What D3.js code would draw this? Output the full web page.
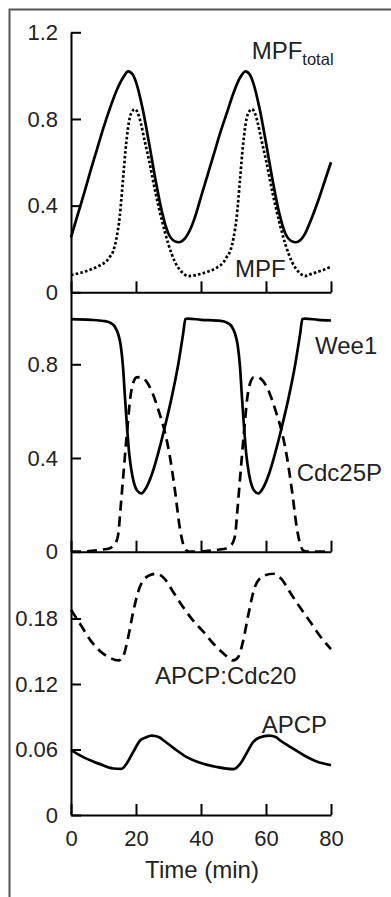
<!DOCTYPE html>
<html>
<head>
<meta charset="utf-8">
<script src="https://cdn.jsdelivr.net/npm/d3@7"></script>
<style>
  html, body { margin: 0; padding: 0; background: #fff; }
  svg { display: block; }
  text { font-family: "Liberation Sans", Arial, sans-serif; fill: #222; }
</style>
</head>
<body>
<svg id="chart" width="391" height="897"></svg>
<script>
// top panel: MPF total (solid) and active MPF (dotted)
const mpfTotalT = [0, 2, 4, 6, 8, 10, 12, 14, 16, 17.6, 19, 20, 22, 24, 26, 28, 30, 32, 33.2, 34.5, 36, 38, 40, 42, 44, 46, 48, 50, 52, 53.7, 55, 56, 58, 60, 62, 64, 66, 68, 69.2, 70.5, 72, 74, 76, 78, 80];
const mpfTotal  = [0.254, 0.355, 0.455, 0.56, 0.66, 0.76, 0.85, 0.93, 0.99, 1.02, 1.005, 0.97, 0.85, 0.69, 0.52, 0.37, 0.27, 0.235, 0.231, 0.24, 0.27, 0.34, 0.44, 0.54, 0.64, 0.74, 0.83, 0.92, 0.99, 1.02, 1.005, 0.97, 0.85, 0.69, 0.52, 0.37, 0.27, 0.235, 0.231, 0.24, 0.27, 0.34, 0.42, 0.51, 0.60];

const mpfT = [0, 3, 6, 9, 11, 12, 13, 14, 15, 16, 17, 18, 19, 19.6, 20.5, 21.5, 22.5, 24, 26, 28, 30, 32, 34, 36, 38, 40, 42, 45, 47, 48, 49, 50, 51, 52, 53, 54, 55, 55.6, 56.5, 57.5, 58.5, 60, 62, 64, 66, 68, 70, 72, 74, 76, 78, 80];
const mpf  = [0.08, 0.09, 0.105, 0.125, 0.145, 0.165, 0.19, 0.25, 0.35, 0.52, 0.69, 0.80, 0.838, 0.845, 0.83, 0.78, 0.71, 0.61, 0.46, 0.33, 0.22, 0.14, 0.095, 0.075, 0.078, 0.085, 0.095, 0.115, 0.14, 0.165, 0.19, 0.25, 0.35, 0.52, 0.69, 0.80, 0.838, 0.845, 0.83, 0.78, 0.71, 0.61, 0.46, 0.33, 0.22, 0.14, 0.095, 0.075, 0.085, 0.095, 0.105, 0.118];

// middle panel: Wee1 (solid) and Cdc25P (dashed)
const wee1T = [0, 6, 10, 12, 13.5, 14.5, 15.3, 16, 16.6, 17.2, 17.9, 18.8, 19.8, 21, 21.7, 23, 25, 27, 29, 31, 33, 34.5, 35.2, 36, 40, 46, 48, 49.5, 50.5, 51.3, 52, 52.6, 53.2, 53.9, 54.8, 55.8, 57, 57.7, 59, 61, 63, 65, 67, 69, 70.5, 71.2, 72, 76, 80];
const wee1  = [0.993, 0.99, 0.985, 0.978, 0.96, 0.93, 0.88, 0.79, 0.66, 0.54, 0.42, 0.33, 0.275, 0.252, 0.249, 0.27, 0.335, 0.43, 0.54, 0.66, 0.8, 0.93, 0.993, 0.995, 0.99, 0.985, 0.978, 0.96, 0.93, 0.88, 0.79, 0.66, 0.54, 0.42, 0.33, 0.275, 0.252, 0.249, 0.27, 0.335, 0.43, 0.54, 0.66, 0.8, 0.93, 0.993, 0.995, 0.99, 0.987];

const cdc25T = [0, 5, 9, 12, 13, 14, 14.6, 15.1, 16.3, 17.1, 18.6, 20.2, 21.4, 23, 25, 27, 28.9, 30.5, 32, 33.5, 34.6, 35.6, 37, 41, 45, 48, 49, 50, 50.6, 51.1, 52.3, 53.1, 54.6, 56.2, 57.4, 59, 61, 63, 64.9, 66.5, 68, 69.5, 70.6, 71.6, 73, 80];
const cdc25  = [0, 0.002, 0.008, 0.015, 0.025, 0.045, 0.08, 0.16, 0.36, 0.49, 0.69, 0.744, 0.745, 0.73, 0.68, 0.6, 0.51, 0.4, 0.26, 0.1, 0.028, 0.004, 0, 0.002, 0.008, 0.015, 0.025, 0.045, 0.08, 0.16, 0.36, 0.49, 0.69, 0.744, 0.745, 0.73, 0.68, 0.6, 0.51, 0.4, 0.26, 0.1, 0.028, 0.004, 0, 0];

// bottom panel: APCP:Cdc20 (dashed) and APCP (solid)
const apcCdc20T = [0, 3, 6, 9, 12, 14.6, 16, 17.6, 19.2, 21.2, 23.8, 26.4, 28.9, 31.5, 34.6, 37.6, 40.7, 43.8, 46.9, 49.9, 51.5, 53, 54.6, 56.6, 59.2, 62.3, 64.8, 67.4, 70.5, 73.6, 76.6, 80];
const apcCdc20  = [0.188, 0.174, 0.16, 0.15, 0.144, 0.1416, 0.145, 0.163, 0.187, 0.209, 0.219, 0.221, 0.216, 0.204, 0.19, 0.178, 0.168, 0.157, 0.148, 0.1416, 0.145, 0.16, 0.184, 0.209, 0.219, 0.221, 0.216, 0.204, 0.19, 0.177, 0.164, 0.152];

const apcT = [0, 3.8, 8.9, 13, 15.6, 17.1, 19.2, 21.2, 23, 24.8, 27, 28.4, 31.5, 35.6, 39.7, 44.8, 49.9, 52, 54, 56.1, 58, 61, 63, 64.3, 67.4, 71.5, 75.6, 80];
const apc  = [0.0594, 0.053, 0.0466, 0.0426, 0.0423, 0.047, 0.058, 0.068, 0.071, 0.0728, 0.0715, 0.0685, 0.0615, 0.053, 0.0478, 0.044, 0.042, 0.0466, 0.0565, 0.067, 0.071, 0.0728, 0.0715, 0.0685, 0.0625, 0.055, 0.049, 0.0457];

const xTicks = [0, 20, 40, 60, 80];
const yTicksTop = [0, 0.4, 0.8, 1.2];
const yTicksMid = [0, 0.4, 0.8];
const yTicksBot = [0, 0.06, 0.12, 0.18];

const svg = d3.select("#chart");

// frame around the figure (open on the right / bottom)
svg.append("path")
    .attr("d", "M9.5,897V9.5H391")
    .attr("fill", "none")
    .attr("stroke", "#555")
    .attr("stroke-width", 2);

const x = d3.scaleLinear().domain([0, 80]).range([71, 331]);

const yTop = d3.scaleLinear().domain([0, 1.2]).range([292.3, 32.3]);
const yMid = d3.scaleLinear().domain([0, 0.4]).range([551.7, 458.0]);
const yBot = d3.scaleLinear().domain([0, 0.06]).range([815, 749.5]);
// stretch the mid/bottom domains so the axes meet the panel above
yMid.domain([0, yMid.invert(292.3)]).range([551.7, 292.3]);
yBot.domain([0, yBot.invert(551.7)]).range([815, 551.7]);

const fmt = d => d === 0 ? "0" : String(d);

function yAxis(scale, ticks) {
    const g = svg.append("g")
        .attr("transform", "translate(" + x(0) + ",0)")
        .call(d3.axisLeft(scale)
            .tickValues(ticks)
            .tickFormat(fmt)
            .tickSizeInner(-10)
            .tickSizeOuter(0)
            .tickPadding(13));
    g.selectAll("path, line").attr("stroke", "#000").attr("stroke-width", 2);
    g.selectAll("text").attr("font-size", 22).attr("fill", "#222")
        .style("font-family", "'Liberation Sans', Arial, sans-serif");
    return g;
}

function xAxis(yPos, labels) {
    const g = svg.append("g")
        .attr("transform", "translate(0," + yPos + ")")
        .call(d3.axisBottom(x)
            .tickValues(xTicks)
            .tickFormat(labels ? d3.format("d") : "")
            .tickSizeInner(-11)
            .tickSizeOuter(0)
            .tickPadding(15));
    g.selectAll("path, line").attr("stroke", "#000").attr("stroke-width", 2);
    g.selectAll("text").attr("font-size", 22).attr("fill", "#222")
        .style("font-family", "'Liberation Sans', Arial, sans-serif");
    return g;
}

yAxis(yTop, yTicksTop);
yAxis(yMid, yTicksMid);
yAxis(yBot, yTicksBot);
xAxis(yTop(0), false);
xAxis(yMid(0), false);
xAxis(yBot(0), true);

function drawLine(ts, vs, scale, dash) {
    const line = d3.line()
        .x(d => x(d[0]))
        .y(d => scale(d[1]))
        .curve(d3.curveMonotoneX);
    svg.append("path")
        .datum(d3.zip(ts, vs))
        .attr("d", line)
        .attr("fill", "none")
        .attr("stroke", "#000")
        .attr("stroke-width", 2.7)
        .attr("stroke-dasharray", dash);
}

drawLine(mpfTotalT, mpfTotal, yTop, null);
drawLine(mpfT, mpf, yTop, "2.6,2.2");
drawLine(wee1T, wee1, yMid, null);
drawLine(cdc25T, cdc25, yMid, "10,6");
drawLine(apcCdc20T, apcCdc20, yBot, "10,6");
drawLine(apcT, apc, yBot, null);

// series labels
const mpfTot = svg.append("text")
    .attr("x", 251.7)
    .attr("y", 59)
    .attr("font-size", 24);
mpfTot.append("tspan").text("MPF");
mpfTot.append("tspan").attr("font-size", 16.5).attr("dy", 5.5).text("total");

const labels = [
    {text: "MPF", x: 235, y: 276.7},
    {text: "Wee1", x: 315, y: 354.3},
    {text: "Cdc25P", x: 296.7, y: 481},
    {text: "APCP:Cdc20", x: 155, y: 684},
    {text: "APCP", x: 261.7, y: 732.7}
];
svg.selectAll("text.lbl")
    .data(labels)
    .enter()
    .append("text")
    .attr("class", "lbl")
    .attr("x", d => d.x)
    .attr("y", d => d.y)
    .attr("font-size", 24)
    .text(d => d.text);

svg.append("text")
    .attr("x", (x(0) + x(80)) / 2 + 1)
    .attr("y", 877.7)
    .attr("text-anchor", "middle")
    .attr("font-size", 24)
    .text("Time (min)");
</script>
</body>
</html>
